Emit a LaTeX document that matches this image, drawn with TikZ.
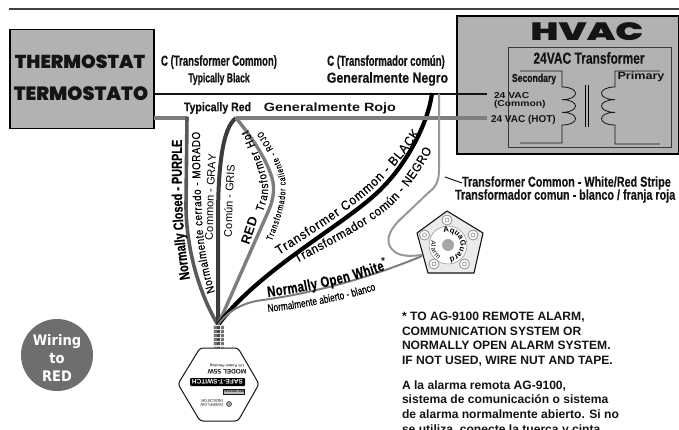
\documentclass[tikz,border=0pt]{standalone}
\usepackage{fontspec}
\usepackage{graphicx}
\usetikzlibrary{decorations.text}
\setmainfont{Liberation Sans}
\newfontfamily\cnd[FakeStretch=0.75,FakeBold=0.35]{Liberation Sans}
\newfontfamily\cnn[FakeStretch=0.66,FakeBold=0.6]{Liberation Sans}
\newfontfamily\cndb[FakeStretch=0.85,FakeBold=0.35]{Liberation Sans}
\newfontfamily\medf[FakeStretch=0.92,FakeBold=0.35]{Liberation Sans}
\newfontfamily\wide[FakeStretch=1.2]{Liberation Sans}
\newfontfamily\blk{Poppins Black}
\newfontfamily\djv[FakeStretch=0.9]{DejaVu Sans}
\definecolor{boxgray}{HTML}{B2B2B2}
\definecolor{wiremid}{HTML}{7E7E7E}
\definecolor{wiredark}{HTML}{3C3C3C}
\definecolor{wirepurple}{HTML}{5A5A5A}
\definecolor{wirelite}{HTML}{989898}
\definecolor{badge}{HTML}{6E6E6E}
\definecolor{ink}{HTML}{141414}
\tikzset{
  lab/.style={inner sep=0pt,outer sep=0pt,text=ink},
  bigbox/.style={draw=black,line width=1.6pt,fill=boxgray},
  coil/.style={draw=ink,line width=0.8pt},
  wirea/.style={line width=3.4pt,color=wiremid},
  along/.style 2 args={decorate,decoration={text along path,text={|#1|#2},text align={fit to path}}},
  bolt/.style={draw=wirelite,line width=0.9pt,fill=white}
}
\begin{document}
\begin{tikzpicture}[x=1pt,y=-1pt,line cap=butt]
\clip (0,0) rectangle (679,430);
\fill[white] (0,0) rectangle (679,430);
% top rule
\coordinate (ruleL) at (9,9);
\coordinate (ruleR) at (679,9);
\draw[line width=1.2pt,color=black!75] (ruleL) -- (ruleR);
% main boxes
\node[bigbox,inner sep=0pt,minimum width=144pt,minimum height=99pt] (thermo) at (82,79) {};
\node[lab,font=\blk\fontsize{18.7}{19}\selectfont] (t1) at (80,62) {THERMOSTAT};
\node[lab,font=\blk\fontsize{19.2}{20}\selectfont] (t2) at (81,94) {TERMOSTATO};
\node[bigbox,inner sep=0pt,minimum width=222pt,minimum height=138pt] (hvac) at (568,85) {};
\node[lab,font=\blk\fontsize{25}{25}\selectfont] (hv) at (587,32) {\scalebox{1.48}[1]{HVAC}};
\node[draw=ink!85,line width=0.9pt,inner sep=0pt,minimum width=163pt,minimum height=100pt] (xf) at (589.5,97) {};
\node[lab,font=\cnd\bfseries\fontsize{16}{16}\selectfont] (xft) at (589,58) {24VAC Transformer};
% secondary coil
\coordinate (s0) at (520,71); \coordinate (s1) at (520,143);
\draw[coil] (s0) -- (562,71) -- (562,87)
  .. controls +(18,0) and +(18,0) .. ++(0,12.67)
  .. controls +(18,0) and +(18,0) .. ++(0,12.67)
  .. controls +(18,0) and +(18,0) .. ++(0,12.67)
  -- (562,143) -- (s1);
% primary coil
\coordinate (p0) at (660,71); \coordinate (p1) at (660,144);
\draw[coil] (p0) -- (615,71) -- (615,87)
  .. controls +(-18,0) and +(-18,0) .. ++(0,12.67)
  .. controls +(-18,0) and +(-18,0) .. ++(0,12.67)
  .. controls +(-18,0) and +(-18,0) .. ++(0,12.67)
  -- (615,144) -- (p1);
\draw[line width=0.7pt] (585,85) -- (585,127) (588.5,85) -- (588.5,127);
\node[lab,font=\cnd\bfseries\fontsize{11.5}{12}\selectfont] (sec) at (534,79) {Secondary};
\node[lab,font=\wide\bfseries\fontsize{10.5}{11}\selectfont] (pri) at (641,77) {Primary};
\node[lab,font=\wide\bfseries\fontsize{8.6}{8.8}\selectfont,align=left,anchor=north west] (c24) at (494,92) {24 VAC\\(Common)};
\node[lab,font=\bfseries\fontsize{10}{10}\selectfont,anchor=west] (h24) at (491,120) {24 VAC (HOT)};
% wires
\coordinate (hub) at (218,325);
\coordinate (split) at (236,118);
\coordinate (blk) at (432,93);
\coordinate (stripe) at (439,94);
\coordinate (almA) at (422,256);
\coordinate (almB) at (422,255);
\coordinate (hotEnd) at (487,118);
\coordinate (comEnd) at (487,94);
\draw[line width=1.3pt,color=ink] (thermo.east |- comEnd) -- (comEnd);
\draw[wirea] (154,118) -- (187,118);
\draw[line width=3.6pt,color=wirepurple] (187,116.5) -- (186,205) .. controls (186,250) and (200,295) .. (hub);
\draw[line width=4pt,color=wiredark] (split) .. controls (222,128) and (218,170) .. (218,220) -- (hub);
\draw[wirea] (split) .. controls (250,135) and (268,160) .. (273,182) .. controls (275,195) and (271,205) .. (268,212) -- (hub);
\draw[line width=4.2pt,color=black] (blk) .. controls (428,125) and (405,165) .. (383,187) .. controls (350,222) and (260,268) .. (hub);
\draw[wirea] (split) -- (hotEnd);
\draw[line width=2pt,color=wirelite] (stripe) -- (439,170) .. controls (439,182) and (435,188) .. (428,193) -- (405,215) .. controls (385,232) and (385,245) .. (395,252) .. controls (402,257) and (412,256) .. (almB);
\draw[line width=2pt,color=wiremid] (hub) .. controls (228,310) and (245,302) .. (263,300) .. controls (300,295) and (360,282) .. (almA);
% top labels
\node[lab,font=\cnn\bfseries\fontsize{14.5}{15}\selectfont] (l1) at (219,62) {C (Transformer Common)};
\node[lab,font=\cnn\bfseries\fontsize{13}{13}\selectfont] (l2) at (219,79) {Typically Black};
\node[lab,font=\cnn\bfseries\fontsize{14.5}{15}\selectfont] (l3) at (386,62) {C (Transformador común)};
\node[lab,font=\cndb\bfseries\fontsize{14.5}{15}\selectfont] (l4) at (387.5,79) {Generalmente Negro};
\node[lab,font=\cndb\bfseries\fontsize{12.4}{13}\selectfont] (l5) at (217.5,108) {Typically Red};
\node[lab,font=\wide\bfseries\fontsize{12}{12}\selectfont] (l6) at (330,108) {Generalmente Rojo};
\node[lab,font=\cnd\bfseries\fontsize{14.4}{15}\selectfont,anchor=west] (l7) at (462,183) {Transformer Common - White/Red Stripe};
\node[lab,font=\cnd\bfseries\fontsize{14.4}{15}\selectfont,anchor=west] (l8) at (455,196) {Transformador comun - blanco / franja roja};
\coordinate (lead) at (445,177);
\draw[line width=1pt,color=ink] (lead) -- (l7.west);
% wire labels
\path[along={\cnd\bfseries\fontsize{14.5}{15}\selectfont}{Normally Closed - PURPLE}] (190,279) .. controls (183,240) and (181,200) .. (182,140);
\path[along={\cndb\fontsize{11.5}{12}\selectfont}{Normalmente cerrado - MORADO}] (215,292) .. controls (205,260) and (200,235) .. (200,132);
\path[along={\fontsize{11}{12}\selectfont}{Common - GRAY}] (213,240) .. controls (213,210) and (214,185) .. (216,158);
\path[along={\fontsize{11}{12}\selectfont}{Común - GRIS}] (232,237) .. controls (232,215) and (233,190) .. (235,165);
\path[along={\bfseries\fontsize{13}{13}\selectfont}{RED}] (249,245) -- (258,219);
\path[along={\cndb\fontsize{11.5}{12}\selectfont}{Transformer Hot}] (263,212) .. controls (268,198) and (270,188) .. (266,175) .. controls (261,158) and (255,145) .. (248,130);
\path[along={\cnd\fontsize{9}{9}\selectfont}{Transformador caliente - ROJO}] (272,241) .. controls (280,220) and (288,200) .. (285,178) .. controls (282,162) and (272,147) .. (262,131);
\path[along={\medf\fontsize{13}{13}\selectfont}{Transformer Common - BLACK}] (279,255) .. controls (315,232) and (350,210) .. (375,187) .. controls (392,170) and (408,152) .. (420,133);
\path[along={\medf\fontsize{12.5}{13}\selectfont}{Transformador común - NEGRO}] (297,263) .. controls (330,245) and (365,228) .. (390,207) .. controls (405,193) and (420,172) .. (432,150);
\path[along={\cnd\bfseries\fontsize{15}{15}\selectfont}{Normally Open White}] (268,297) .. controls (305,292) and (350,283) .. (385,270);
\node[lab,font=\bfseries\fontsize{10}{10}\selectfont] (star) at (383,261) {*};
\path[along={\cnd\fontsize{11}{11}\selectfont}{Normalmente abierto - blanco}] (268,312) .. controls (305,308) and (345,300) .. (376,290);
% alarm
\coordinate (a1) at (447,211); \coordinate (a2) at (483,233); \coordinate (a3) at (474,273); \coordinate (a4) at (428,273); \coordinate (a5) at (417,233);
\draw[line width=1.1pt,color=ink,fill=black!8,line join=round] (a1) -- (a2) -- (a3) -- (a4) -- (a5) -- cycle;
\node[circle,fill=white,draw=black!45,line width=0.5pt,minimum size=38pt,inner sep=0pt] (almc) at (448,245) {};
\node[circle,fill=black!35,minimum size=12pt,inner sep=0pt] (almd) at (448,245) {};
\foreach \bx/\by in {447/220,473/235,464.5/264,434/264,424.5/235} {
  \draw[bolt] (\bx,\by) circle[radius=5];
  \draw[draw=wirelite,line width=0.7pt] (\bx,\by) circle[radius=2];
}
\path[along={\bfseries\fontsize{7.8}{8}\selectfont}{AquaGuard}] (almc.center) ++(-110:12.5) arc[start angle=-110,end angle=80,radius=12.5];
\path[along={\fontsize{6.8}{7}\selectfont}{Alarm}] (almc.center) ++(-165:17) arc[start angle=-165,end angle=-235,radius=17];
% switch body
\draw[line width=1pt,color=ink,fill=white,rounded corners=3pt] (200,348) -- (238,348) -- (259,384) -- (238,421) -- (200,421) -- (178,384) -- cycle;
\node[inner sep=0pt,minimum width=11pt,minimum height=22pt,fill=black!10] (neck) at (218.5,336) {};
\draw[line width=3pt,color=black!55,dash pattern=on 3pt off 1.2pt] (215,325.5) -- (215,347);
\draw[line width=3pt,color=black!70,dash pattern=on 3pt off 1.2pt] (218.5,325.5) -- (218.5,347);
\draw[line width=3pt,color=black!55,dash pattern=on 3pt off 1.2pt] (222,325.5) -- (222,347);
\node[lab,rotate=180,font=\fontsize{4}{4}\selectfont] (sw0) at (227,366) {US Patent Pending};
\node[lab,rotate=180,font=\bfseries\fontsize{6.5}{7}\selectfont] (sw1) at (227,372) {MODEL 55W};
\node[rotate=180,fill=black,text=white,inner sep=0pt,minimum width=55pt,minimum height=8pt,rounded corners=1pt,font=\bfseries\fontsize{6.5}{7}\selectfont] (sw2) at (217.5,382) {SAFE-T-SWITCH};
\node[rotate=180,draw=ink,fill=black!25,inner sep=0pt,minimum width=19pt,minimum height=5pt,text=ink,font=\bfseries\fontsize{3}{3}\selectfont] (sw3) at (234,392) {RECTORSEAL};
\node[lab,rotate=180,align=center,font=\fontsize{4}{4.6}\selectfont] (sw4) at (212,403) {OVERFLOW\\INDICATOR};
\node[circle,draw=black!70,fill=black!35,line width=0.7pt,minimum size=5pt,inner sep=0pt] (sw5) at (229,404) {};
% badge
\node[circle,fill=badge,minimum size=72pt,inner sep=0pt] (badgec) at (57,355) {};
\node[inner sep=0pt,text=white,font=\djv\bfseries\fontsize{14.5}{15}\selectfont] (b1) at (57,342) {Wiring};
\node[inner sep=0pt,text=white,font=\djv\bfseries\fontsize{14.5}{15}\selectfont] (b2) at (57,359) {to};
\node[inner sep=0pt,text=white,font=\djv\bfseries\fontsize{14.5}{15}\selectfont] (b3) at (57,376) {RED};
% notes
\node[lab,anchor=north west,align=left,font=\bfseries\fontsize{12.1}{14.6}\selectfont] (n1) at (402,312) {* TO AG-9100 REMOTE ALARM,\\COMMUNICATION SYSTEM OR\\NORMALLY OPEN ALARM SYSTEM.\\IF NOT USED, WIRE NUT AND TAPE.};
\node[lab,anchor=north west,align=left,font=\bfseries\fontsize{12.1}{14.6}\selectfont] (n2) at (402,380.5) {A la alarma remota AG-9100,\\sistema de comunicación o sistema\\de alarma normalmente abierto. Si no\\se utiliza, conecte la tuerca y cinta.};
\end{tikzpicture}
\end{document}
